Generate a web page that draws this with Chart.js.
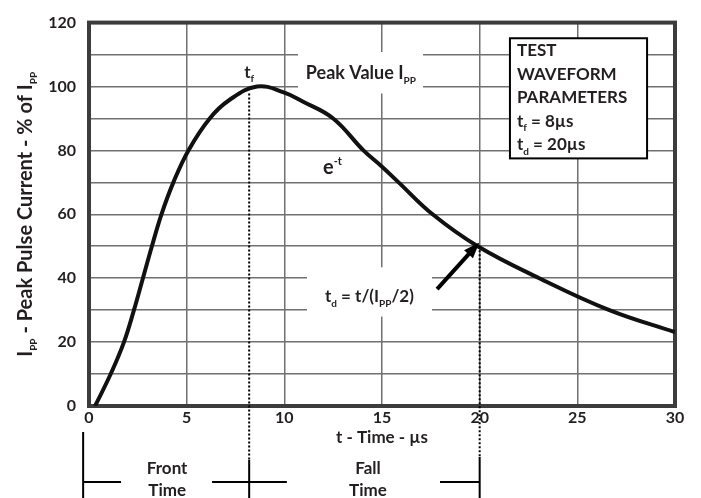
<!DOCTYPE html>
<html>
<head>
<meta charset="utf-8">
<script src="https://cdn.jsdelivr.net/npm/chart.js@4.4.1/dist/chart.umd.min.js"></script>
<style>
  html, body { margin: 0; padding: 0; background: #fff; }
  #wrap { width: 701px; height: 498px; }
</style>
</head>
<body>
<div id="wrap"><canvas id="chart" width="701" height="498"></canvas></div>
<script>
// 8/20 us test waveform
const timeUs = [0.31, 1.11, 1.79, 2.30, 2.76, 3.22, 3.71, 4.32, 5.09, 6.18, 7.17, 8.6, 10, 10.94, 12.5, 14.05, 15, 15.85, 17.59, 19.9, 23.05, 26.64, 30];
const currentPct = [0, 10, 20, 30, 40, 50, 60, 70, 80, 90, 95.7, 100, 98.1, 95.3, 90, 80, 74.9, 70, 60, 50, 40, 30, 23.1];

const xTickLabels = [0, 5, 10, 15, 20, 25, 30];
const yTickLabels = [0, 20, 40, 60, 80, 100, 120];
const yGridStep = 10;

const frontTime = 8.2;   // where the tf marker sits in the picture
const decayTime = 20;

const TEXT = '#231f20';
const font = (size) => `bold ${size}px Lato, "Open Sans", sans-serif`;

function richText(ctx, parts, x, y, align) {
  let w = 0;
  parts.forEach(p => { ctx.font = font(p[1]); w += ctx.measureText(p[0]).width; });
  let cx = align === 'center' ? x - w / 2 : x;
  ctx.textAlign = 'left';
  ctx.textBaseline = 'alphabetic';
  parts.forEach(p => {
    ctx.font = font(p[1]);
    ctx.fillText(p[0], cx, y + (p[2] || 0));
    cx += ctx.measureText(p[0]).width;
  });
}

const waveformDecor = {
  id: 'waveformDecor',
  beforeDatasetsDraw(chart) {
    const { ctx, chartArea: a, scales: { x, y } } = chart;
    ctx.save();
    // white boxes that cut the grid behind the labels
    ctx.fillStyle = '#fff';
    const box = (t0, t1, v0, v1) =>
      ctx.fillRect(x.getPixelForValue(t0), y.getPixelForValue(v0),
        x.getPixelForValue(t1) - x.getPixelForValue(t0), y.getPixelForValue(v1) - y.getPixelForValue(v0));
    box(10.7, 17.1, 110.8, 97.8);
    box(11.16, 17.56, 43.4, 28);
    // frame
    ctx.strokeStyle = '#3c3c3c';
    ctx.lineWidth = 4;
    ctx.strokeRect(a.left, a.top, a.right - a.left, a.bottom - a.top);
    ctx.restore();
  },
  afterDatasetsDraw(chart) {
    const { ctx, chartArea: a, scales: { x, y } } = chart;
    const px = (t) => x.getPixelForValue(t);
    const py = (v) => y.getPixelForValue(v);
    ctx.save();
    ctx.fillStyle = TEXT;
    ctx.strokeStyle = '#000';

    // dotted markers
    ctx.lineWidth = 2;
    ctx.setLineDash([2, 2]);
    ctx.beginPath();
    ctx.moveTo(px(frontTime), py(100) + 7);
    ctx.lineTo(px(frontTime), a.bottom + 54);
    ctx.moveTo(px(decayTime), py(50));
    ctx.lineTo(px(decayTime), a.bottom + 52);
    ctx.stroke();
    ctx.setLineDash([]);

    // arrow to the half value point
    const x0 = px(17.82), y0 = py(36.6), x1 = px(19.98), y1 = py(51.2);
    const ang = Math.atan2(y1 - y0, x1 - x0);
    ctx.lineWidth = 4;
    ctx.beginPath();
    ctx.moveTo(x0, y0);
    ctx.lineTo(x1 - 10 * Math.cos(ang), y1 - 10 * Math.sin(ang));
    ctx.stroke();
    ctx.beginPath();
    ctx.moveTo(x1, y1);
    ctx.lineTo(x1 - 16 * Math.cos(ang) + 6 * Math.sin(ang), y1 - 16 * Math.sin(ang) - 6 * Math.cos(ang));
    ctx.lineTo(x1 - 16 * Math.cos(ang) - 6 * Math.sin(ang), y1 - 16 * Math.sin(ang) + 6 * Math.cos(ang));
    ctx.closePath();
    ctx.fillStyle = '#000';
    ctx.fill();
    ctx.fillStyle = TEXT;

    // labels inside the plot
    richText(ctx, [['t', 17], ['f', 10, 4]], px(7.95), py(102.8));
    richText(ctx, [['Peak Value I', 18], ['PP', 10, 5]], px(11.1), py(102.5));
    richText(ctx, [['e', 20], ['-t', 11, -9]], px(11.98), py(72.6));
    richText(ctx, [['t', 17], ['d', 10, 5], [' = t/(I', 17], ['PP', 10, 5], ['/2)', 17]], px(12.08), py(32.6));

    // parameter box
    const bx = px(21.55), by = py(115.1), bw = px(28.57) - bx, bh = py(77.5) - by;
    ctx.fillStyle = '#fff';
    ctx.fillRect(bx, by, bw, bh);
    ctx.lineWidth = 2;
    ctx.strokeRect(bx, by, bw, bh);
    ctx.fillStyle = TEXT;
    const lx = bx + 7;
    richText(ctx, [['TEST', 17]], lx, by + 18);
    richText(ctx, [['WAVEFORM', 17]], lx, by + 42);
    richText(ctx, [['PARAMETERS', 17]], lx, by + 65);
    richText(ctx, [['t', 17], ['f', 10, 4], [' = 8µs', 17]], lx, by + 89);
    richText(ctx, [['t', 17], ['d', 10, 5], [' = 20µs', 17]], lx, by + 112);

    // axis titles
    richText(ctx, [['t - Time - µs', 17]], px(15), a.bottom + 37, 'center');
    ctx.save();
    ctx.translate(32, (a.top + a.bottom) / 2);
    ctx.rotate(-Math.PI / 2);
    richText(ctx, [['I', 20], ['PP', 10, 5], [' - Peak Pulse Current - % of I', 20], ['PP', 10, 5]], 0, 0, 'center');
    ctx.restore();

    // front / fall time dimension lines
    const H = chart.height;
    const ly = a.bottom + 76;
    ctx.strokeStyle = '#000';
    ctx.lineWidth = 2;
    ctx.beginPath();
    ctx.moveTo(px(-0.3), a.bottom + 26); ctx.lineTo(px(-0.3), H);
    ctx.moveTo(px(frontTime), a.bottom + 54); ctx.lineTo(px(frontTime), H);
    ctx.moveTo(px(decayTime), a.bottom + 51); ctx.lineTo(px(decayTime), H);
    ctx.moveTo(px(-0.3), ly); ctx.lineTo(px(1.64), ly);
    ctx.moveTo(px(6.3), ly); ctx.lineTo(px(10.13), ly);
    ctx.moveTo(px(17.97), ly); ctx.lineTo(px(decayTime), ly);
    ctx.stroke();
    richText(ctx, [['Front', 17]], px(4), a.bottom + 68, 'center');
    richText(ctx, [['Time', 17]], px(4), a.bottom + 90, 'center');
    richText(ctx, [['Fall', 17]], px(14.28), a.bottom + 68, 'center');
    richText(ctx, [['Time', 17]], px(14.28), a.bottom + 90, 'center');
    ctx.restore();
  }
};

new Chart(document.getElementById('chart'), {
  type: 'line',
  data: {
    datasets: [{
      data: timeUs.map((t, i) => ({ x: t, y: currentPct[i] })),
      borderColor: '#111',
      borderWidth: 4,
      pointRadius: 0,
      tension: 0.4,
      fill: false
    }]
  },
  options: {
    responsive: false,
    animation: false,
    layout: { padding: { top: 16, right: 26, left: 0, bottom: 0 } },
    plugins: { legend: { display: false }, tooltip: { enabled: false } },
    scales: {
      x: {
        type: 'linear',
        min: 0,
        max: 30,
        afterBuildTicks: (s) => { s.ticks = xTickLabels.map(v => ({ value: v })); },
        afterFit: (s) => { s.height = 92; },
        ticks: { font: { family: 'Lato, "Open Sans", sans-serif', size: 16, weight: 'bold' }, color: TEXT, padding: 2, maxRotation: 0 },
        grid: { color: '#707070', lineWidth: 1.5, drawTicks: false },
        border: { display: false }
      },
      y: {
        min: 0,
        max: 120,
        ticks: {
          stepSize: yGridStep,
          callback: (v) => yTickLabels.includes(v) ? v : '',
          font: { family: 'Lato, "Open Sans", sans-serif', size: 16, weight: 'bold' },
          color: TEXT,
          padding: 13
        },
        afterFit: (s) => { s.width = 89; },
        grid: { color: '#707070', lineWidth: 1.5, drawTicks: false },
        border: { display: false }
      }
    }
  },
  plugins: [waveformDecor]
});
</script>
</body>
</html>
